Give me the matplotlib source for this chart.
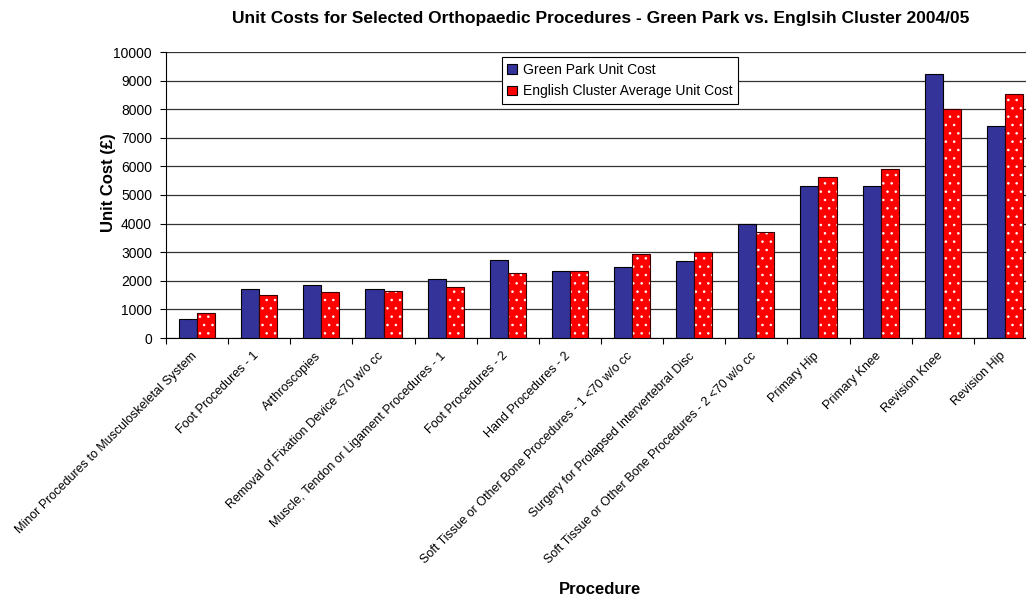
import matplotlib
matplotlib.use("Agg")
import matplotlib.pyplot as plt
from matplotlib.patches import Patch
from matplotlib.transforms import ScaledTranslation
import numpy as np

procedures = [
    "Minor Procedures to Musculoskeletal System",
    "Foot Procedures - 1",
    "Arthroscopies",
    "Removal of Fixation Device <70 w/o cc",
    "Muscle, Tendon or Ligament Procedures - 1",
    "Foot Procedures - 2",
    "Hand Procedures - 2",
    "Soft Tissue or Other Bone Procedures - 1 <70 w/o cc",
    "Surgery for Prolapsed Intervertebral Disc",
    "Soft Tissue or Other Bone Procedures - 2 <70 w/o cc",
    "Primary Hip",
    "Primary Knee",
    "Revision Knee",
    "Revision Hip",
]
green_park = [680, 1720, 1850, 1720, 2050, 2740, 2330, 2490, 2700, 3970, 5300, 5300, 9240, 7430]
cluster_avg = [880, 1520, 1600, 1650, 1770, 2280, 2330, 2930, 3000, 3690, 5630, 5910, 7990, 8520]
y_ticks = list(range(0, 10001, 1000))

plt.rcParams["font.family"] = ["Liberation Sans", "DejaVu Sans"]
plt.rcParams["hatch.linewidth"] = 0.6

fig = plt.figure(figsize=(10.26, 5.99), dpi=100)
# plot area runs a little past the right edge of the figure
ax = fig.add_axes([166 / 1026, 1 - 338 / 599, 870 / 1026, 286 / 599])

x = np.arange(len(procedures))
w = 0.29

ax.set_axisbelow(True)
ax.yaxis.grid(True, color="#333333", linewidth=0.9)

ax.bar(x - w / 2, green_park, w, color="#333399", edgecolor="black", linewidth=0.8, zorder=3)
# red bars with a white dot pattern
ax.bar(x + w / 2, cluster_avg, w, color="#FF0000", edgecolor="white", linewidth=0,
       hatch="..", zorder=3)
ax.bar(x + w / 2, cluster_avg, w, fill=False, edgecolor="#3a0000", linewidth=0.8, zorder=4)

handles = [
    Patch(facecolor="#333399", edgecolor="black", linewidth=0.8, label="Green Park Unit Cost"),
    Patch(facecolor="#FF0000", edgecolor="black", linewidth=0.8, label="English Cluster Average Unit Cost"),
]

ax.set_xlim(-0.5, len(procedures) - 0.5)
ax.set_ylim(0, 10000)
ax.set_yticks(y_ticks)
ax.set_yticklabels([str(v) for v in y_ticks], fontsize=10)
ax.set_xticks(np.arange(len(procedures) + 1) - 0.5)
ax.set_xticklabels([])
ax.set_xticks(x, minor=True)
ax.set_xticklabels(procedures, minor=True, rotation=45, ha="right", va="top",
                   rotation_mode="anchor", fontsize=9)
ax.tick_params(axis="x", which="minor", length=0, pad=0)
ax.tick_params(axis="x", which="major", length=4, direction="out", width=0.8)
ax.tick_params(axis="y", length=4, direction="out", width=0.8, pad=6)

# nudge the slanted category labels so their ends sit just left of each slot centre
shift = ScaledTranslation(-6 / 100, -12 / 100, fig.dpi_scale_trans)
for lbl in ax.get_xticklabels(minor=True):
    lbl.set_transform(lbl.get_transform() + shift)

for side in ["top", "right"]:
    ax.spines[side].set_visible(False)
ax.spines["left"].set_linewidth(0.8)
ax.spines["bottom"].set_linewidth(0.8)

ax.set_ylabel("Unit Cost (£)", fontsize=12, fontweight="bold")
ax.yaxis.set_label_coords(-0.0575, 0.545)
fig.text(0.585, 1 - 589 / 599, "Procedure", fontsize=12, fontweight="bold",
         ha="center", va="center")
fig.text(0.585, 1 - 18 / 599,
         "Unit Costs for Selected Orthopaedic Procedures - Green Park vs. Englsih Cluster 2004/05",
         fontsize=12.5, fontweight="bold", ha="center", va="center")

leg = ax.legend(handles=handles, loc="upper left", bbox_to_anchor=(0.386, 0.982), fontsize=10,
                frameon=True, fancybox=False, edgecolor="black", framealpha=1,
                handlelength=0.7, handleheight=0.7, handletextpad=0.4,
                borderpad=0.4, labelspacing=0.55, borderaxespad=0)
leg.get_frame().set_linewidth(0.8)

fig.savefig("out.png", dpi=100)
